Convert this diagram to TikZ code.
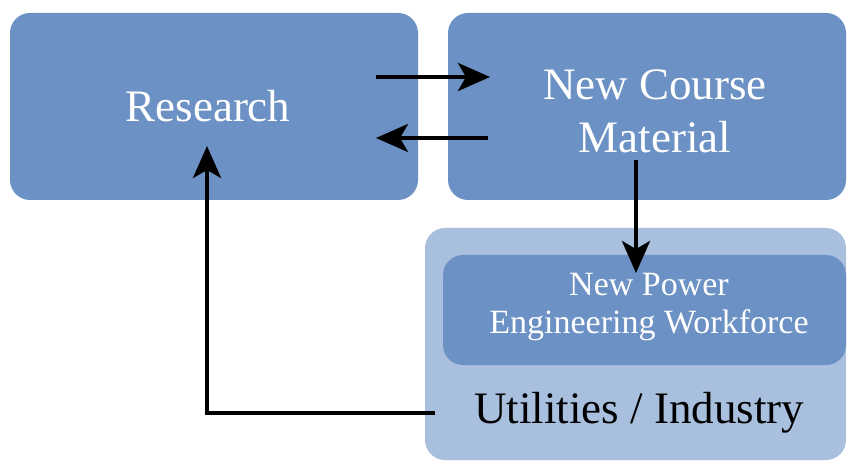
\documentclass[tikz,border=0pt]{standalone}
\usepackage{fontspec}
\setmainfont{Liberation Serif}
\usetikzlibrary{arrows.meta}
\definecolor{boxblue}{RGB}{108,145,196}
\definecolor{lightblue}{RGB}{169,191,222}
\tikzset{
  bluebox/.style={rectangle, rounded corners=20pt, fill=boxblue, draw=none, inner sep=0pt, text=white, align=center},
  outerbox/.style={rectangle, rounded corners=20pt, fill=lightblue, draw=none, inner sep=0pt},
  flow/.style={line width=4pt, -{Stealth[length=32pt,width=28pt,inset=8pt]}},
  bigtext/.style={font=\fontsize{45}{53}\selectfont}
}
\begin{document}
\begin{tikzpicture}[x=1pt,y=-1pt]
\useasboundingbox (0,0) rectangle (848,462);
\fill[white] (0,0) rectangle (848,462);
\node[bluebox, minimum width=408pt, minimum height=187pt] (research) at (214,106.5) {};
\node[text=white, bigtext] (restext) at (208,106) {Research};
\node[bluebox, minimum width=398pt, minimum height=187pt] (ncm) at (647,106.5) {};
\node[text=white, align=center, bigtext] (ncmtext) at (655,111) {New Course\\Material};
\node[outerbox, minimum width=421pt, minimum height=232pt] (util) at (635.5,344) {};
\node[bluebox, minimum width=403pt, minimum height=110pt] (workforce) at (644.5,310) {};
\node[text=white, align=center, font=\fontsize{34}{38}\selectfont] (wftext) at (649,307) {New Power\\Engineering Workforce};
\node[text=black, bigtext] (utiltext) at (639,413) {Utilities / Industry};
\coordinate (r2nS) at (376,77);
\coordinate (r2nE) at (490,77);
\coordinate (n2rS) at (488,138);
\coordinate (n2rE) at (376,138);
\coordinate (downS) at (636,160);
\coordinate (downE) at (636,273);
\coordinate (fbS) at (435,413);
\coordinate (fbC) at (207,413);
\coordinate (fbE) at (207,146);
\draw[flow] (r2nS) -- (r2nE);
\draw[flow] (n2rS) -- (n2rE);
\draw[flow] (downS) -- (downE);
\draw[flow] (fbS) -- (fbC) -- (fbE);
\end{tikzpicture}
\end{document}
